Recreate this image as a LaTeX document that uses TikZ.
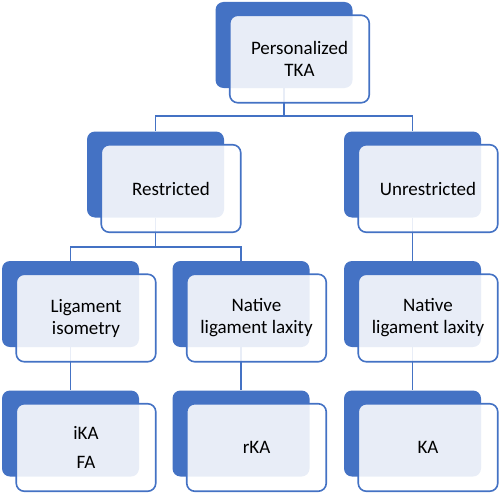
\documentclass[tikz,border=0pt]{standalone}
\usepackage{fontspec}
\setmainfont{Carlito}
\usetikzlibrary{positioning}
\definecolor{tkablue}{HTML}{4472C4}
\tikzset{
    %Define style for the back plates
    plate/.style={
           rectangle,
           rounded corners=8pt,
           fill=tkablue,
           minimum width=137pt,
           minimum height=86pt,
           on grid},
    %Define style for the front cards
    card/.style={
           rectangle,
           rounded corners=8pt,
           draw=tkablue, line width=1.6pt,
           fill=white, fill opacity=0.88, text opacity=1,
           minimum width=139.5pt,
           minimum height=87.5pt,
           font=\fontsize{19}{22}\selectfont,
           align=center,
           on grid,
           below right=14pt and 15.5pt of #1},
    % Define connector style
    link/.style={
           draw=tkablue,
           line width=1.6pt}
}
\begin{document}
\begin{tikzpicture}[x=1pt,y=-1pt]
\useasboundingbox (0,0) rectangle (500,495);
\node[plate] (p1) at (284,45) {};
\node[plate, below left=129.5pt and 128.5pt of p1] (p2) {};
\node[plate, below right=129.5pt and 128.5pt of p1] (p3) {};
\node[plate, below left=129.5pt and 85pt of p2] (p4) {};
\node[plate, below right=129.5pt and 85.5pt of p2] (p5) {};
\node[plate, below=129.5pt of p3] (p6) {};
\node[plate, below=129.5pt of p4] (p7) {};
\node[plate, below=129.5pt of p5] (p8) {};
\node[plate, below=129.5pt of p6] (p9) {};
% connectors
\draw[link] (p1.south) -- ++(0,28) -| (p2.north);
\draw[link] (p1.south) -- ++(0,28) -| (p3.north);
\draw[link] (p2.south) -- ++(0,29) -| (p4.north);
\draw[link] (p2.south) -- ++(0,29) -| (p5.north);
\draw[link] (p3.south) -- (p6.north);
\draw[link] (p4.south) -- (p7.north);
\draw[link] (p5.south) -- (p8.north);
\draw[link] (p6.south) -- (p9.north);
% front cards
\node[card=p1] (c1) {Personalized\\TKA};
\node[card=p2] (c2) {Restricted};
\node[card=p3] (c3) {Unrestricted};
\node[card=p4] (c4) {Ligament\\isometry};
\node[card=p5] (c5) {Native\\ligament laxity};
\node[card=p6] (c6) {Native\\ligament laxity};
\node[card=p7] (c7) {iKA\\[7pt]FA};
\node[card=p8] (c8) {rKA};
\node[card=p9] (c9) {KA};
\end{tikzpicture}
\end{document}
